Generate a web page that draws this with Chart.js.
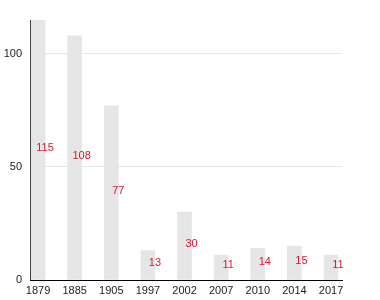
<!DOCTYPE html>
<html>
<head>
<meta charset="utf-8">
<script src="https://cdn.jsdelivr.net/npm/chart.js@4/dist/chart.umd.min.js"></script>
<style>
  html, body { margin: 0; padding: 0; background: #fff; }
  #wrap { width: 380px; height: 300px; }
</style>
</head>
<body>
<div id="wrap"><canvas id="chart" width="380" height="300"></canvas></div>
<script>
const years = ['1879', '1885', '1905', '1997', '2002', '2007', '2010', '2014', '2017'];
const counts = [115, 108, 77, 13, 30, 11, 14, 15, 11];
const yTicks = [0, 50, 100];

// red value labels in the middle of each bar, nudged right
const valueLabels = {
    id: 'valueLabels',
    afterDatasetsDraw(chart) {
        const ctx = chart.ctx;
        const meta = chart.getDatasetMeta(0);
        ctx.save();
        ctx.font = '11px "Liberation Sans", Arial, sans-serif';
        ctx.fillStyle = '#e8102a';
        ctx.textAlign = 'center';
        ctx.textBaseline = 'middle';
        meta.data.forEach((bar, i) => {
            const midY = (bar.y + bar.base) / 2 - 2;
            ctx.fillText(String(counts[i]), bar.x + 7, midY);
        });
        ctx.restore();
    }
};

const ctx = document.getElementById('chart').getContext('2d');
new Chart(ctx, {
    type: 'bar',
    data: {
        datasets: [{
            data: counts.map((v, i) => ({ x: i, y: v })),
            backgroundColor: '#e6e6e6',
            borderWidth: 0,
            barThickness: 14,
        }],
    },
    options: {
        responsive: false,
        animation: false,
        layout: { padding: { top: 20, right: 38, left: 0, bottom: 0 } },
        plugins: {
            legend: { display: false },
            tooltip: { enabled: false },
        },
        scales: {
            x: {
                type: 'linear',
                offset: false,
                min: -0.22,
                max: 8.3,
                afterBuildTicks: (axis) => {
                    axis.ticks = years.map((y, i) => ({ value: i }));
                },
                afterFit: (axis) => { axis.height = 20; },
                grid: { display: false, drawTicks: false },
                border: { display: true, color: '#000', width: 1 },
                ticks: {
                    callback: (v) => years[v],
                    color: '#222',
                    font: { size: 11, family: '"Liberation Sans", Arial, sans-serif' },
                    padding: 4,
                    maxRotation: 0,
                    autoSkip: false,
                },
            },
            y: {
                min: 0,
                max: 115,
                afterBuildTicks: (axis) => {
                    axis.ticks = yTicks.map((v) => ({ value: v }));
                },
                afterFit: (axis) => { axis.width = 30; },
                grid: { color: '#e6e6e6', drawTicks: false },
                border: { display: true, color: '#000', width: 1 },
                ticks: {
                    color: '#222',
                    font: { size: 11, family: '"Liberation Sans", Arial, sans-serif' },
                    padding: 8,
                },
            },
        },
    },
    plugins: [valueLabels],
});
</script>
</body>
</html>
